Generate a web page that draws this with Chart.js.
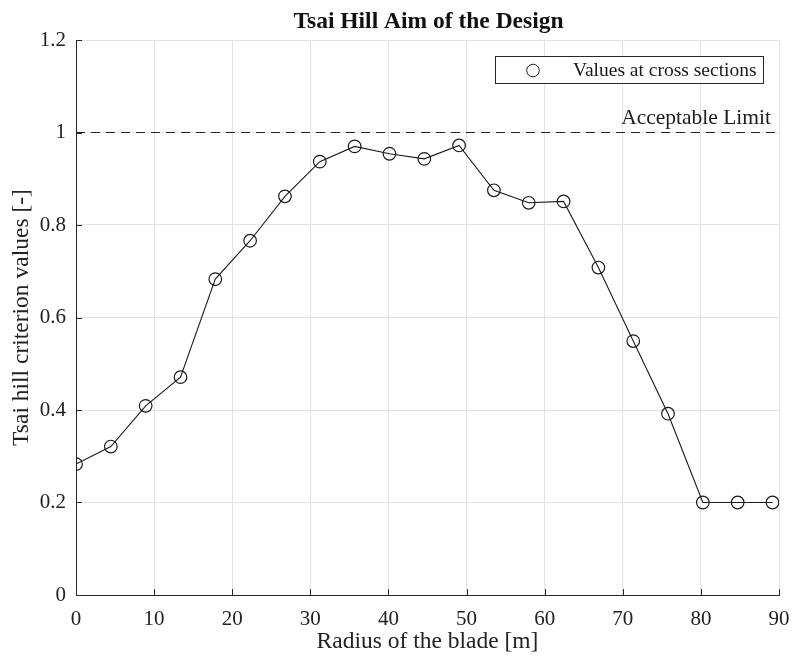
<!DOCTYPE html>
<html>
<head>
<meta charset="utf-8">
<script src="https://cdn.jsdelivr.net/npm/chart.js@4/dist/chart.umd.min.js"></script>
<style>
  html, body { margin: 0; padding: 0; background: #fff; }
  #wrap { width: 792px; height: 656px; }
</style>
</head>
<body>
<div id="wrap"><canvas id="c" width="792" height="656"></canvas></div>
<script>
// Radial stations along the blade [m]
const radius = [0, 4.46, 8.92, 13.38, 17.83, 22.29, 26.75, 31.21, 35.67, 40.13,
                44.59, 49.04, 53.50, 57.96, 62.42, 66.88, 71.34, 75.79, 80.25, 84.71, 89.17];
// Tsai-Hill failure index at each cross section [-]
const tsaiHill = [0.283, 0.321, 0.409, 0.471, 0.683, 0.766, 0.862, 0.937, 0.970, 0.954,
                  0.943, 0.972, 0.875, 0.848, 0.851, 0.708, 0.549, 0.392, 0.200, 0.200, 0.200];
const xTicks = [0, 10, 20, 30, 40, 50, 60, 70, 80, 90];
const yTicks = [0, 0.2, 0.4, 0.6, 0.8, 1, 1.2];
const limitValue = 1;
const limitLabel = 'Acceptable Limit';
const seriesLabel = 'Values at cross sections';
const chartTitle = 'Tsai Hill Aim of the Design';

const SERIF = '"Liberation Serif", "Times New Roman", serif';
const INK = '#262626';

const points = radius.map((r, i) => ({ x: r, y: tsaiHill[i] }));

// Inward tick marks, limit label, legend box and title
const decorations = {
  id: 'decorations',
  afterDraw(chart) {
    const { ctx, chartArea: a, scales: { x, y } } = chart;
    ctx.save();
    ctx.strokeStyle = INK;
    ctx.lineWidth = 1;
    ctx.beginPath();
    xTicks.forEach(v => {
      const px = Math.round(x.getPixelForValue(v)) + 0.5;
      ctx.moveTo(px, a.bottom);
      ctx.lineTo(px, a.bottom - 6);
    });
    yTicks.forEach(v => {
      const py = Math.round(y.getPixelForValue(v)) + 0.5;
      ctx.moveTo(a.left, py);
      ctx.lineTo(a.left + 6, py);
    });
    ctx.stroke();

    // limit label
    ctx.fillStyle = '#1a1a1a';
    ctx.font = '21.5px ' + SERIF;
    ctx.textAlign = 'right';
    ctx.textBaseline = 'alphabetic';
    ctx.fillText(limitLabel, 771, y.getPixelForValue(limitValue) - 8.5);

    // legend
    const bx = 495.5, by = 56.5, bw = 268, bh = 27;
    ctx.fillStyle = '#fff';
    ctx.fillRect(bx, by, bw, bh);
    ctx.strokeStyle = INK;
    ctx.strokeRect(bx, by, bw, bh);
    ctx.beginPath();
    ctx.arc(533, 70.5, 6.3, 0, Math.PI * 2);
    ctx.strokeStyle = '#222';
    ctx.stroke();
    ctx.fillStyle = '#1a1a1a';
    ctx.textAlign = 'left';
    ctx.textBaseline = 'middle';
    ctx.font = '19.5px ' + SERIF;
    ctx.fillText(seriesLabel, 573, 71);

    // title
    ctx.fillStyle = '#111';
    ctx.font = 'bold 23.5px ' + SERIF;
    ctx.textAlign = 'center';
    ctx.textBaseline = 'middle';
    ctx.fillText(chartTitle, 428.5, 22);
    ctx.restore();
  }
};

new Chart(document.getElementById('c'), {
  type: 'scatter',
  data: {
    datasets: [
      {
        label: seriesLabel,
        data: points,
        showLine: true,
        borderColor: '#1a1a1a',
        borderWidth: 1.1,
        pointRadius: 6.3,
        pointHoverRadius: 6.3,
        pointBorderWidth: 1.2,
        pointBackgroundColor: 'rgba(0,0,0,0)',
        pointBorderColor: '#1a1a1a',
        pointStyle: 'circle'
      },
      {
        label: limitLabel,
        data: [{ x: 0, y: limitValue }, { x: 90, y: limitValue }],
        showLine: true,
        borderColor: '#222',
        borderWidth: 1.2,
        borderDash: [9, 6],
        pointRadius: 0
      }
    ]
  },
  options: {
    responsive: false,
    animation: false,
    events: [],
    layout: { padding: { top: 40, right: 13, left: 0, bottom: 0 } },
    plugins: {
      legend: { display: false },
      title: { display: false },
      tooltip: { enabled: false }
    },
    scales: {
      x: {
        type: 'linear',
        min: 0, max: 90,
        afterBuildTicks(s) { s.ticks = xTicks.map(v => ({ value: v })); },
        afterFit(s) { s.height = 61; s.paddingLeft = 0; s.paddingRight = 0; },
        grid: { color: '#e3e3e3', drawTicks: false, lineWidth: 1 },
        border: { color: INK, width: 1 },
        ticks: { color: '#222', padding: 12, font: { family: SERIF, size: 21 } },
        title: {
          display: true, text: 'Radius of the blade [m]', color: '#222',
          font: { family: SERIF, size: 23.5 }, padding: { top: -3, bottom: 0 }
        }
      },
      y: {
        type: 'linear',
        min: 0, max: 1.2,
        afterBuildTicks(s) { s.ticks = yTicks.map(v => ({ value: v })); },
        afterFit(s) { s.width = 76; s.paddingTop = 0; s.paddingBottom = 0; },
        grid: { color: '#e3e3e3', drawTicks: false, lineWidth: 1 },
        border: { color: INK, width: 1 },
        ticks: {
          color: '#222', padding: 10, font: { family: SERIF, size: 21 },
          callback: v => String(Math.round(v * 10) / 10)
        },
        title: {
          display: true, text: 'Tsai hill criterion values [-]', color: '#222',
          font: { family: SERIF, size: 23.5 }, padding: { top: 8, bottom: 0 }
        }
      }
    }
  },
  plugins: [decorations]
});
</script>
</body>
</html>
